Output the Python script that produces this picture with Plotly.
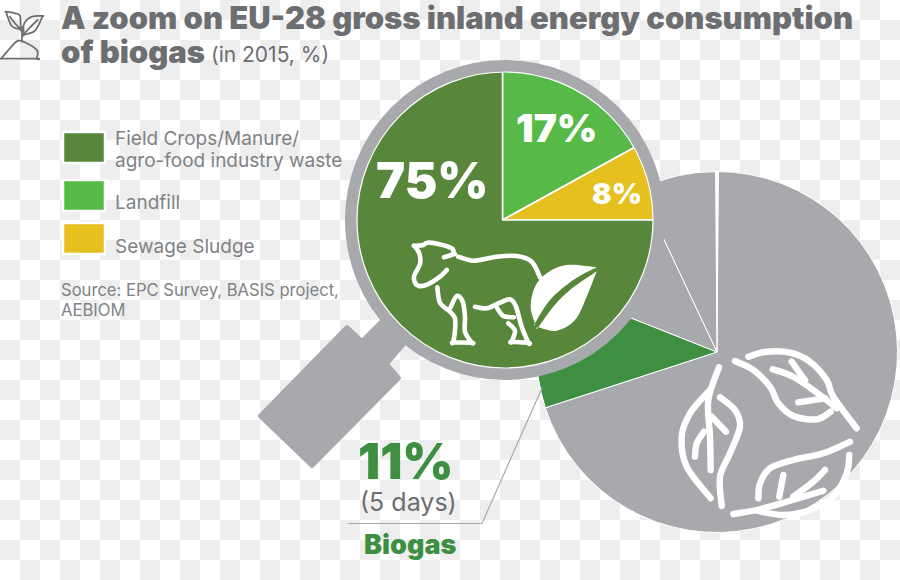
import plotly.graph_objects as go

# ---- data ----
zoom_labels = ["Landfill", "Sewage Sludge", "Field Crops/Manure/ agro-food industry waste"]
zoom_values = [17, 8, 75]
zoom_colors = ["#57b947", "#e6c01e", "#58873b"]
mix_labels = ["Other renewables", "Biogas", "Other renewables 2", "Other renewables 3"]
mix_values = [70, 11, 12, 7]
mix_colors = ["#a7a9ac", "#3e8f42", "#a7a9ac", "#a7a9ac"]
legend_lines = ["Field Crops/Manure/", "agro-food industry waste", "Landfill", "Sewage Sludge"]
title_line1 = "A zoom on EU-28 gross inland energy consumption"
title_line2 = "of biogas"
title_sub = "(in 2015, %)"
source_lines = ["Source: EPC Survey, BASIS project,", "AEBIOM"]
biogas_share = "11%"
biogas_days = "(5 days)"
biogas_name = "Biogas"

W, H = 900, 580
GRAY, TEXT, LEG = "#a7a9ac", "#6d6e71", "#808285"
FONT = "Inter"


def dom(cx, cy, r):
    return dict(x=[(cx - r) / W, (cx + r) / W], y=[1 - (cy + r) / H, 1 - (cy - r) / H])


def curve(pts, ox=0, oy=0, k=3.0, close=False):
    # Catmull-Rom through the traced outline points of an icon
    p = [(ox + x / k, oy + y / k) for x, y in pts]
    d = f"M{p[0][0]:.1f},{p[0][1]:.1f}"
    for i in range(len(p) - 1):
        p0 = p[max(i - 1, 0)]
        p1, p2 = p[i], p[i + 1]
        p3 = p[min(i + 2, len(p) - 1)]
        c1 = (p1[0] + (p2[0] - p0[0]) / 6, p1[1] + (p2[1] - p0[1]) / 6)
        c2 = (p2[0] - (p3[0] - p1[0]) / 6, p2[1] - (p3[1] - p1[1]) / 6)
        d += f"C{c1[0]:.1f},{c1[1]:.1f} {c2[0]:.1f},{c2[1]:.1f} {p2[0]:.1f},{p2[1]:.1f}"
    return d + ("Z" if close else "")


fig = go.Figure()

# transparent-background checker visible in the picture
cols, rows = W // 20 + 1, H // 20 + 1
fig.add_trace(go.Heatmap(
    z=[[(i + j) % 2 for i in range(cols)] for j in range(rows)],
    x0=10, dx=20, y0=10, dy=20, showscale=False, hoverinfo="skip", zmin=0, zmax=1,
    colorscale=[[0, "#ffffff"], [1, "#eeeeee"]], xaxis="x", yaxis="y"))

fig.add_trace(go.Pie(values=mix_values, labels=mix_labels, sort=False, direction="clockwise",
                     rotation=0, domain=dom(717, 352, 180.5), textinfo="none", hoverinfo="label+percent",
                     marker=dict(colors=mix_colors, line=dict(color="#ffffff", width=1)), showlegend=False))
fig.add_trace(go.Pie(values=zoom_values, labels=zoom_labels, sort=False, direction="clockwise",
                     rotation=0, domain=dom(502.5, 220, 152), textinfo="none", hoverinfo="label+percent",
                     marker=dict(colors=zoom_colors, line=dict(color="#ffffff", width=1.6)), showlegend=False))

shapes = []


def stroke(d, color="#ffffff", width=3.6):
    shapes.append(dict(type="path", path=d, xref="x", yref="y", layer="above",
                       line=dict(color=color, width=width), fillcolor="rgba(0,0,0,0)"))


def fill(d, color="#ffffff", lw=0, lc=None):
    shapes.append(dict(type="path", path=d, xref="x", yref="y", layer="above",
                       line=dict(color=lc or color, width=lw), fillcolor=color))


# gap at twelve o'clock of the big pie
fill("M715,171 L719,171 L717.4,352 L716.6,352 Z")

# magnifier handle
fill("M347,327 L362,341 L382,321 L404,344 L387,364 L399,378 L312,466 L260,416 Z", GRAY, 4, GRAY)
# magnifier ring
shapes.append(dict(type="circle", xref="x", yref="y", x0=505 - 154, x1=505 + 154, y0=220 - 154, y1=220 + 154,
                   layer="above", line=dict(color=GRAY, width=12), fillcolor="rgba(0,0,0,0)"))
shapes.append(dict(type="circle", xref="x", yref="y", x0=505 - 148, x1=505 + 148, y0=220 - 148, y1=220 + 148,
                   layer="above", line=dict(color="#ffffff", width=1.2), fillcolor="rgba(0,0,0,0)"))

# callout
stroke("M349,523.5 L482,523.5 L542,388", GRAY, 1.2)

# legend swatches
for (y0, y1), c in zip([(132, 163), (180, 211), (223, 254)], [zoom_colors[2], zoom_colors[0], zoom_colors[1]]):
    shapes.append(dict(type="rect", xref="x", yref="y", x0=63, x1=105, y0=y0, y1=y1, layer="above",
                       fillcolor=c, line=dict(color="#ffffff", width=2.5)))

# sprout icon
ic = dict(ox=0, oy=0)
for pts in [
    [(3, 176), (3, 176), (110, 176), (110, 176), (112, 152), (85, 132), (55, 122), (30, 145), (3, 176)],
    [(66, 125), (66, 80)],
    [(18, 35), (18, 35), (45, 40), (60, 48), (62, 88), (62, 88), (35, 78), (18, 35)],
    [(30, 50), (45, 70), (63, 90)],
    [(128, 48), (128, 48), (95, 50), (72, 72), (72, 104), (72, 104), (105, 92), (128, 48)],
    [(113, 60), (90, 82), (72, 102)],
]:
    stroke(curve(pts, **ic), TEXT, 1.8)

# cow (zoomed-crop coordinates, 3x, origin 340,60)
cow = dict(ox=340, oy=60)
for pts in [
    [(312, 592), (342, 582), (342, 582), (335, 565), (295, 552), (262, 548), (250, 555), (224, 558), (224, 558), (238, 580), (240, 612), (222, 650), (232, 676), (262, 674), (300, 650), (320, 630)],
    [(355, 590), (400, 602), (470, 590), (530, 588), (575, 605), (600, 652)],
    [(292, 682), (300, 728), (330, 755), (345, 775), (345, 812), (340, 847), (340, 847), (395, 848), (395, 848), (375, 815), (375, 770), (368, 725), (350, 708), (332, 742)],
    [(405, 740), (440, 745), (480, 728), (510, 718), (528, 740), (545, 800), (565, 848), (565, 848), (515, 845), (515, 845), (525, 812), (505, 790)],
    [(472, 745), (490, 768), (522, 772)],
]:
    stroke(curve(pts, **cow), "#ffffff", 4.6)
fill(curve([(770, 622), (770, 622), (680, 615), (620, 640), (585, 680), (572, 740), (585, 790), (585, 790), (630, 720), (700, 660), (770, 622)], close=True, **cow))
fill(curve([(770, 634), (770, 634), (690, 690), (640, 740), (595, 802), (595, 802), (650, 812), (705, 780), (740, 710), (770, 634)], close=True, **cow))

# recycling leaves (zoomed-crop coordinates, 3x, origin 500,160)
lf = dict(ox=500, oy=160)
for pts in [
    [(657, 622), (625, 720), (630, 830), (632, 930)],
    [(625, 695), (570, 760), (545, 830), (560, 920), (632, 1015)],
    [(660, 712), (705, 750), (720, 800), (690, 880), (660, 950), (665, 1038)],
    [(635, 770), (678, 815)],
    [(612, 815), (590, 850), (585, 890)],
    [(705, 603), (760, 630), (810, 680), (835, 730), (880, 768), (950, 778), (992, 755)],
    [(745, 590), (800, 575), (870, 578), (930, 605), (980, 660), (1000, 710), (1070, 805)],
    [(818, 628), (880, 650), (960, 705), (1010, 745)],
    [(875, 605), (900, 640), (915, 660)],
    [(895, 727), (975, 715)],
    [(1050, 845), (970, 880), (880, 900), (810, 925), (780, 970), (775, 1015)],
    [(700, 1062), (770, 1050), (860, 1025), (970, 992)],
    [(1048, 885), (1040, 940), (1000, 1010), (930, 1050), (850, 1065), (770, 1052)],
    [(850, 945), (838, 1010)],
    [(975, 930), (940, 965), (880, 1010)],
]:
    stroke(curve(pts, **lf), "#ffffff", 6.4)


def label(x, y, text, size, color, weight=400, anchor="left"):
    return dict(x=x, y=y, xref="x", yref="y", text=text, showarrow=False, xanchor=anchor, yanchor="middle",
                font=dict(family=FONT, size=size, color=color, weight=weight), align=anchor)


annotations = [
    label(59, 17, title_line1, 31, TEXT, 900),
    label(59, 51, title_line2, 31, TEXT, 900),
    label(209, 54, title_sub, 21, TEXT),
    label(113, 138, legend_lines[0], 19, LEG),
    label(113, 160, legend_lines[1], 19, LEG),
    label(113, 202, legend_lines[2], 19, LEG),
    label(113, 246, legend_lines[3], 19, LEG),
    label(59, 290, source_lines[0], 16.6, LEG),
    label(59, 310, source_lines[1], 16.6, LEG),
    label(432, 180, str(zoom_values[2]) + "%", 49, "#ffffff", 900, "center"),
    label(557, 127, str(zoom_values[0]) + "%", 39, "#ffffff", 900, "center"),
    label(617, 193, str(zoom_values[1]) + "%", 29, "#ffffff", 900, "center"),
    label(405, 461, biogas_share, 49, mix_colors[1], 900, "center"),
    label(408, 502, biogas_days, 25, TEXT, 400, "center"),
    label(410, 544, biogas_name, 27, mix_colors[1], 900, "center"),
]

fig.update_layout(
    width=W, height=H, margin=dict(l=0, r=0, t=0, b=0), autosize=False,
    paper_bgcolor="#ffffff", plot_bgcolor="#ffffff", showlegend=False,
    xaxis=dict(range=[0, W], visible=False, fixedrange=True, domain=[0, 1]),
    yaxis=dict(range=[H, 0], visible=False, fixedrange=True, domain=[0, 1]),
    shapes=shapes, annotations=annotations,
)

css = ("var s=document.createElement('style');"
       "s.textContent='html,body{margin:0;padding:0;overflow:hidden}"
       ".shapelayer path{stroke-linecap:round;stroke-linejoin:round}';"
       "document.head.appendChild(s);")
fig.write_html("out.html", post_script=css, config={"displayModeBar": False})
